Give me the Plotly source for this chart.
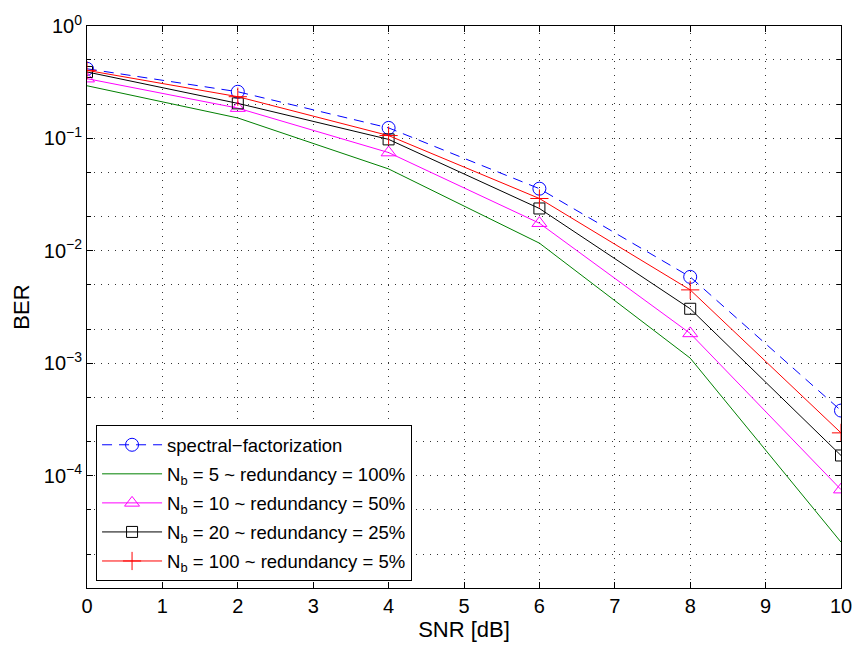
import plotly.graph_objects as go

snr = [0, 2, 4, 6, 8, 10]
ber_spectral = [0.416, 0.26, 0.124, 0.0357, 0.00586, 3.79e-4]
ber_nb5 = [0.294, 0.152, 0.0535, 0.0117, 0.00111, 2.56e-5]
ber_nb10 = [0.34, 0.186, 0.0748, 0.0176, 0.00184, 7.5e-5]
ber_nb20 = [0.39, 0.205, 0.098, 0.0238, 0.00305, 1.51e-4]
ber_nb100 = [0.403, 0.235, 0.106, 0.0292, 0.00449, 2.4e-4]

names = [
    "spectral\u2212factorization",
    "N<sub>b</sub> = 5 ~ redundancy = 100%",
    "N<sub>b</sub> = 10 ~ redundancy = 50%",
    "N<sub>b</sub> = 20 ~ redundancy = 25%",
    "N<sub>b</sub> = 100 ~ redundancy = 5%",
]
ytick_vals = [1e-5, 1e-4, 1e-3, 1e-2, 1e-1, 1]
ytick_text = ["", "10<sup>\u22124</sup>", "10<sup>\u22123</sup>", "10<sup>\u22122</sup>",
              "10<sup>\u22121</sup>", "10<sup>0</sup>"]

GRID = dict(showgrid=True, gridcolor="#333333", griddash="1px,6px", gridwidth=1)
FONT = "Liberation Sans, Arial, sans-serif"

fig = go.Figure()
fig.add_trace(go.Scatter(x=snr, y=ber_spectral, name=names[0], mode="lines+markers", legendgroup="a",
                         line=dict(color="#0000ff", width=1, dash="10px,7px"),
                         marker=dict(symbol="circle-open", size=13, color="#0000ff", line=dict(width=1))))
fig.add_trace(go.Scatter(x=snr, y=ber_nb5, name=names[1], mode="lines", legendgroup="b",
                         line=dict(color="#008000", width=1)))
fig.add_trace(go.Scatter(x=snr, y=ber_nb10, name=names[2], mode="lines+markers", legendgroup="c",
                         line=dict(color="#ff00ff", width=1),
                         marker=dict(symbol="triangle-up-open", size=13, color="#ff00ff", line=dict(width=1))))
fig.add_trace(go.Scatter(x=snr, y=ber_nb20, name=names[3], mode="lines+markers", legendgroup="d",
                         line=dict(color="#000000", width=1),
                         marker=dict(symbol="square-open", size=11, color="#000000", line=dict(width=1))))
fig.add_trace(go.Scatter(x=snr, y=ber_nb100, name=names[4], mode="lines+markers", legendgroup="e",
                         line=dict(color="#ff0000", width=1),
                         marker=dict(symbol="cross-thin-open", size=13, color="#ff0000", line=dict(width=1, color="#ff0000"))))

fig.update_layout(
    width=864, height=648,
    margin=dict(l=87, r=15, t=18, b=60),
    paper_bgcolor="white", plot_bgcolor="white",
    font=dict(family=FONT, size=20, color="black"),
    showlegend=True,
    legend=dict(x=0.012, y=0.012, xanchor="left", yanchor="bottom",
                bgcolor="white", bordercolor="black", borderwidth=1,
                font=dict(family=FONT, size=18.5), tracegroupgap=2, itemwidth=60),
    xaxis=dict(range=[0, 10], tickvals=list(range(11)), showline=True, linecolor="black",
               linewidth=1, mirror="allticks", ticks="inside", ticklen=6, tickcolor="black",
               tickfont=dict(family=FONT, size=20),
               zeroline=False, title=dict(text="SNR [dB]", standoff=2, font=dict(family=FONT, size=22)), **GRID),
    yaxis=dict(type="log", range=[-5, 0], tickvals=ytick_vals, ticktext=ytick_text,
               showline=True, linecolor="black", linewidth=1, mirror="allticks",
               ticks="inside", ticklen=6, tickcolor="black", zeroline=False,
               tickfont=dict(family=FONT, size=20),
               minor=dict(ticks="inside", ticklen=4, tickcolor="black", **GRID), **GRID),
    annotations=[dict(text="BER", xref="paper", yref="paper", x=-(87 - 20) / 762, y=0.5,
                      textangle=-90, showarrow=False, xanchor="center", yanchor="middle",
                      font=dict(family=FONT, size=22))],
)
fig.write_html("out.html")
